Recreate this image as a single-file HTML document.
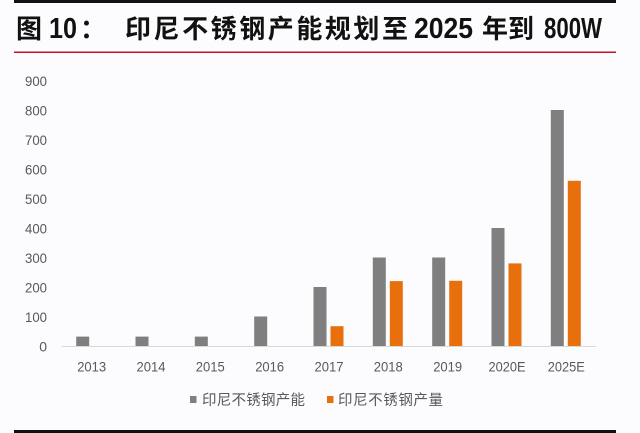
<!DOCTYPE html>
<html>
<head>
<meta charset="utf-8">
<style>
html,body{margin:0;padding:0;background:#fcfbfd;}
svg{display:block;}
</style>
</head>
<body>
<svg width="640" height="433" viewBox="0 0 640 433" xmlns="http://www.w3.org/2000/svg">
<rect x="0" y="0" width="640" height="433" fill="#fcfbfd"/>
<!-- top black rule -->
<rect x="14" y="0" width="602" height="3" fill="#111"/>
<!-- title -->
<g font-family="'Liberation Sans','Noto Sans CJK SC',sans-serif" font-weight="bold" fill="#111">
<text x="16" y="38" font-size="26" font-family="'Noto Sans CJK SC',sans-serif" font-weight="bold">图</text>
<text x="49" y="38" font-size="29" textLength="28" lengthAdjust="spacingAndGlyphs">10</text>
<text x="80" y="38" font-size="26" font-family="'Noto Sans CJK SC',sans-serif" font-weight="bold">：</text>
<text x="125" y="38" font-size="26" font-family="'Noto Sans CJK SC',sans-serif" font-weight="bold" textLength="283" lengthAdjust="spacing">印尼不锈钢产能规划至</text>
<text x="414" y="38" font-size="29" textLength="59" lengthAdjust="spacingAndGlyphs">2025</text>
<text x="482" y="38" font-size="26" font-family="'Noto Sans CJK SC',sans-serif" font-weight="bold" textLength="52" lengthAdjust="spacing">年到</text>
<text x="544" y="38" font-size="29" textLength="58" lengthAdjust="spacingAndGlyphs">800W</text>
</g>
<!-- red rule -->
<rect x="14" y="51.5" width="602" height="1.5" fill="#c8102e"/>

<!-- y axis labels -->
<g font-family="'Liberation Sans',sans-serif" font-size="14" fill="#595959" text-anchor="end">
<text x="47" y="86" textLength="22" lengthAdjust="spacingAndGlyphs">900</text>
<text x="47" y="115.5" textLength="22" lengthAdjust="spacingAndGlyphs">800</text>
<text x="47" y="145" textLength="22" lengthAdjust="spacingAndGlyphs">700</text>
<text x="47" y="174.5" textLength="22" lengthAdjust="spacingAndGlyphs">600</text>
<text x="47" y="204" textLength="22" lengthAdjust="spacingAndGlyphs">500</text>
<text x="47" y="233.5" textLength="22" lengthAdjust="spacingAndGlyphs">400</text>
<text x="47" y="263" textLength="22" lengthAdjust="spacingAndGlyphs">300</text>
<text x="47" y="292.5" textLength="22" lengthAdjust="spacingAndGlyphs">200</text>
<text x="47" y="322" textLength="22" lengthAdjust="spacingAndGlyphs">100</text>
<text x="47" y="351.3">0</text>
</g>

<!-- bars: gray -->
<g fill="#7f7f7f">
<rect x="76.2" y="336.6" width="13" height="9.4"/>
<rect x="135.5" y="336.6" width="13" height="9.4"/>
<rect x="194.8" y="336.6" width="13" height="9.4"/>
<rect x="254.2" y="316.5" width="13" height="29.5"/>
<rect x="313.5" y="287" width="13" height="59"/>
<rect x="372.8" y="257.5" width="13" height="88.5"/>
<rect x="432.2" y="257.5" width="13" height="88.5"/>
<rect x="491.5" y="228" width="13" height="118"/>
<rect x="550.8" y="110" width="13" height="236"/>
</g>
<!-- bars: orange -->
<g fill="#e8700c">
<rect x="330.5" y="326.2" width="13" height="19.8"/>
<rect x="389.8" y="281.1" width="13" height="64.9"/>
<rect x="449.2" y="280.8" width="13" height="65.2"/>
<rect x="508.5" y="263.4" width="13" height="82.6"/>
<rect x="567.8" y="180.8" width="13" height="165.2"/>
</g>

<!-- axis line -->
<line x1="62" y1="346.5" x2="596" y2="346.5" stroke="#d9d9d9" stroke-width="1"/>

<!-- x labels -->
<g font-family="'Liberation Sans',sans-serif" font-size="14" fill="#595959" text-anchor="middle">
<text x="91.7" y="371.5" textLength="29" lengthAdjust="spacingAndGlyphs">2013</text>
<text x="151" y="371.5" textLength="29" lengthAdjust="spacingAndGlyphs">2014</text>
<text x="210.3" y="371.5" textLength="29" lengthAdjust="spacingAndGlyphs">2015</text>
<text x="269.7" y="371.5" textLength="29" lengthAdjust="spacingAndGlyphs">2016</text>
<text x="329" y="371.5" textLength="29" lengthAdjust="spacingAndGlyphs">2017</text>
<text x="388.3" y="371.5" textLength="29" lengthAdjust="spacingAndGlyphs">2018</text>
<text x="447.7" y="371.5" textLength="29" lengthAdjust="spacingAndGlyphs">2019</text>
<text x="507" y="371.5" textLength="37" lengthAdjust="spacingAndGlyphs">2020E</text>
<text x="566.3" y="371.5" textLength="37" lengthAdjust="spacingAndGlyphs">2025E</text>
</g>

<!-- legend -->
<rect x="190" y="396" width="6.5" height="7" fill="#7f7f7f"/>
<text x="202" y="405" font-family="'Liberation Sans','Noto Sans CJK SC',sans-serif" font-size="14.5" fill="#595959" textLength="103" lengthAdjust="spacing">印尼不锈钢产能</text>
<rect x="327" y="396" width="6.5" height="7" fill="#e8700c"/>
<text x="338" y="405" font-family="'Liberation Sans','Noto Sans CJK SC',sans-serif" font-size="14.5" fill="#595959" textLength="105" lengthAdjust="spacing">印尼不锈钢产量</text>

<!-- bottom black rule -->
<rect x="14" y="430" width="602" height="3" fill="#111"/>
</svg>
</body>
</html>
